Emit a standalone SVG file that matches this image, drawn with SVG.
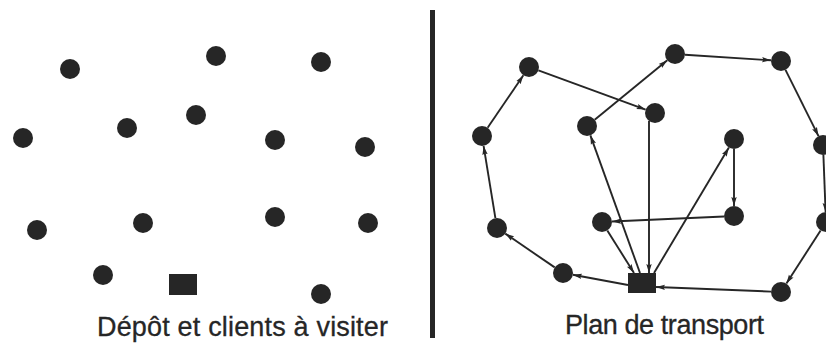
<svg xmlns="http://www.w3.org/2000/svg" width="826" height="344" viewBox="0 0 826 344">
<style>
.n{fill:#262626}
.e{stroke:#262626;stroke-width:1.9;fill:none;marker-end:url(#ah)}
.t{font-family:"Liberation Sans",Arial,sans-serif;font-size:27px;fill:#262626;stroke:#262626;stroke-width:0.3}
</style>
<defs>
<marker id="ah" markerUnits="userSpaceOnUse" markerWidth="10" markerHeight="7" refX="9" refY="3.5" orient="auto">
<path d="M0,0.8 L9,3.5 L0,6.2 L1.5,3.5 z" fill="#262626"/>
</marker>
</defs>
<rect width="826" height="344" fill="#ffffff"/>
<g id="left-panel">
<g id="l1"><circle class="n" cx="70" cy="69" r="10"/></g>
<g id="l2"><circle class="n" cx="216" cy="56" r="10"/></g>
<g id="l3"><circle class="n" cx="321" cy="62" r="10"/></g>
<g id="l4"><circle class="n" cx="23" cy="138" r="10"/></g>
<g id="l5"><circle class="n" cx="127" cy="128" r="10"/></g>
<g id="l6"><circle class="n" cx="196" cy="115" r="10"/></g>
<g id="l7"><circle class="n" cx="275" cy="140" r="10"/></g>
<g id="l8"><circle class="n" cx="365" cy="147" r="10"/></g>
<g id="l9"><circle class="n" cx="37" cy="230" r="10"/></g>
<g id="l10"><circle class="n" cx="143" cy="223" r="10"/></g>
<g id="l11"><circle class="n" cx="275" cy="217" r="10"/></g>
<g id="l12"><circle class="n" cx="368" cy="223" r="10"/></g>
<g id="l13"><circle class="n" cx="103" cy="275" r="10"/></g>
<g id="l-depot"><rect class="n" x="169" y="274" width="28" height="21"/></g>
<g id="l14"><circle class="n" cx="321" cy="294" r="10"/></g>
<text class="t" x="97" y="336" textLength="291" lengthAdjust="spacing">Dépôt et clients à visiter</text>
</g>
<rect id="divider" x="430" y="10" width="5" height="328" fill="#262626"/>
<g id="connectors">
<line class="e" x1="628" y1="285" x2="572.8" y2="274.8"/>
<line class="e" x1="554.7" y1="267.4" x2="505.3" y2="233.6"/>
<line class="e" x1="495.4" y1="218.1" x2="483.6" y2="145.9"/>
<line class="e" x1="487.6" y1="127.7" x2="523.4" y2="75.3"/>
<line class="e" x1="538.4" y1="70.4" x2="645.6" y2="109.6"/>
<line class="e" x1="649" y1="121" x2="649" y2="273"/>
<line class="e" x1="640" y1="273" x2="590.4" y2="135.4"/>
<line class="e" x1="594.7" y1="119.7" x2="667.3" y2="60.3"/>
<line class="e" x1="685" y1="54.7" x2="771" y2="60.3"/>
<line class="e" x1="785.5" y1="69.9" x2="818.5" y2="136.1"/>
<line class="e" x1="823.4" y1="155" x2="825.6" y2="212"/>
<line class="e" x1="820.6" y1="230.4" x2="786.4" y2="283.6"/>
<line class="e" x1="771" y1="291.6" x2="656" y2="287"/>
<line class="e" x1="654" y1="273" x2="728.9" y2="147.6"/>
<line class="e" x1="734" y1="149" x2="734" y2="206"/>
<line class="e" x1="724" y1="216.5" x2="612" y2="221.5"/>
<line class="e" x1="607.3" y1="230.5" x2="634" y2="273"/>
</g>
<g id="right-panel">
<g id="r-depot"><rect class="n" x="628" y="273" width="28" height="20"/></g>
<g id="rA"><circle class="n" cx="529" cy="67" r="10"/></g>
<g id="rB"><circle class="n" cx="482" cy="136" r="10"/></g>
<g id="rC"><circle class="n" cx="587" cy="126" r="10"/></g>
<g id="rE"><circle class="n" cx="675" cy="54" r="10"/></g>
<g id="rF"><circle class="n" cx="781" cy="61" r="10"/></g>
<g id="rG"><circle class="n" cx="655" cy="113" r="10"/></g>
<g id="rH"><circle class="n" cx="734" cy="139" r="10"/></g>
<g id="rI"><circle class="n" cx="823" cy="145" r="10"/></g>
<g id="rJ"><circle class="n" cx="826" cy="222" r="10"/></g>
<g id="rK"><circle class="n" cx="781" cy="292" r="10"/></g>
<g id="rL"><circle class="n" cx="734" cy="216" r="10"/></g>
<g id="rM"><circle class="n" cx="602" cy="222" r="10"/></g>
<g id="rN"><circle class="n" cx="563" cy="273" r="10"/></g>
<g id="rO"><circle class="n" cx="497" cy="228" r="10"/></g>
<text class="t" x="565" y="334" textLength="199" lengthAdjust="spacing">Plan de transport</text>
</g>
</svg>
